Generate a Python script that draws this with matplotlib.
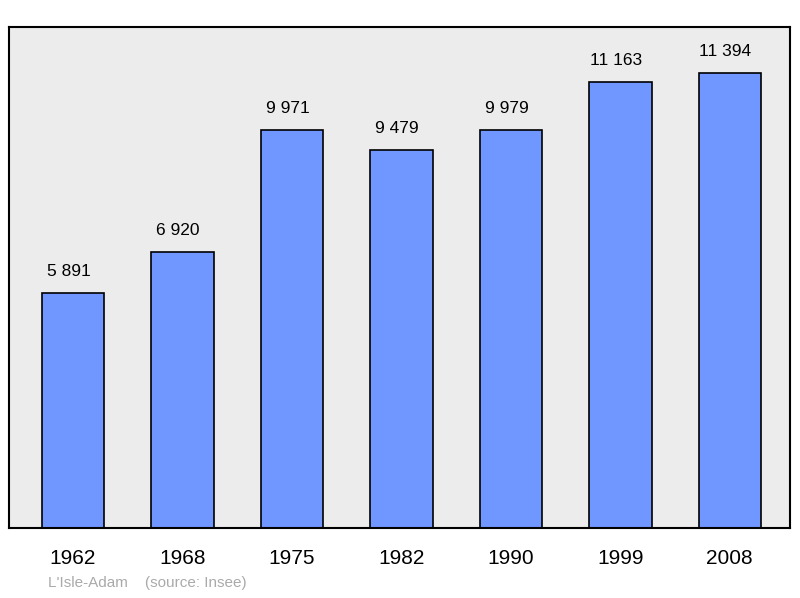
import matplotlib
matplotlib.use("Agg")
import matplotlib.pyplot as plt

years = ["1962", "1968", "1975", "1982", "1990", "1999", "2008"]
population = [5891, 6920, 9971, 9479, 9979, 11163, 11394]
labels = ["5 891", "6 920", "9 971", "9 479", "9 979", "11 163", "11 394"]

fig = plt.figure(figsize=(8, 5.98), dpi=100)
ax = fig.add_axes([0.01125, 0.117, 0.97625, 0.8378])
ax.set_facecolor("#ececec")
x = range(len(years))
ax.bar(x, population, width=0.57, color="#7096ff", edgecolor="black", linewidth=1.2, zorder=2)
for i, (v, t) in enumerate(zip(population, labels)):
    ax.text(i - 0.04, v + 350, t, ha="center", va="bottom", fontsize=12.5, family="Liberation Sans")
ax.set_xlim(-0.585, 6.55)
ax.set_ylim(0, 12550)
ax.set_yticks([])
ax.set_xticks(list(x))
ax.set_xticklabels(years, fontsize=15, family="Liberation Sans")
ax.tick_params(axis="x", length=0, pad=15)
for s in ax.spines.values():
    s.set_linewidth(1.5)
fig.text(48/800, 1 - 583/598, "L'Isle-Adam    (source: Insee)", color="#aaaaaa",
         fontsize=11, family="Liberation Sans", va="center")
fig.savefig("out.png", dpi=100)
